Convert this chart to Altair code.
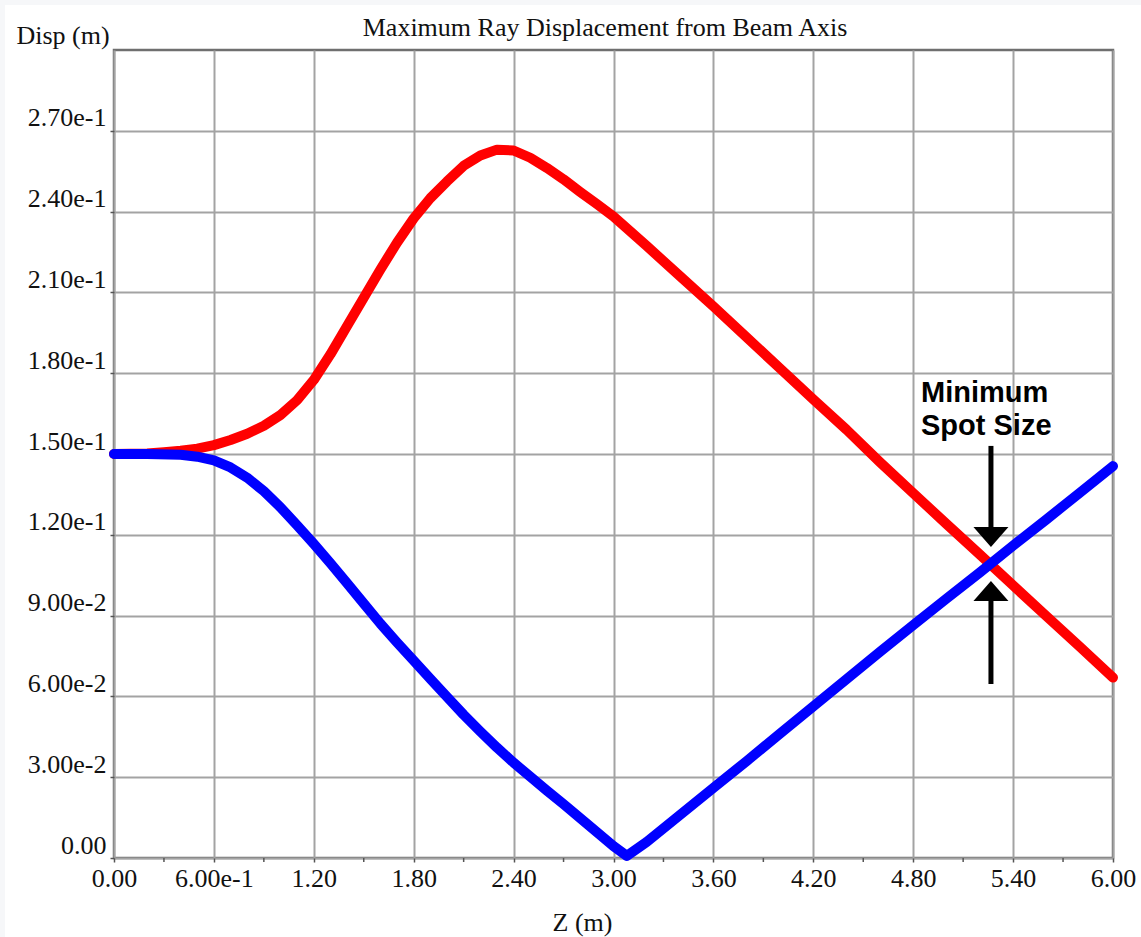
import altair as alt
import pandas as pd

# ---- data ----
z_red = [0.0, 0.2, 0.3, 0.4, 0.5, 0.6, 0.7, 0.8, 0.9, 1.0, 1.1, 1.2, 1.3, 1.4, 1.5,
         1.6, 1.7, 1.8, 1.9, 2.0, 2.1, 2.2, 2.3, 2.4, 2.5, 2.6, 2.7, 2.8, 2.9, 3.0,
         3.2, 3.4, 3.6, 3.8, 4.0, 4.2, 4.4, 4.6, 4.8, 5.0, 5.2, 5.4, 5.6, 5.8, 6.0]
d_red = [0.1500, 0.1502, 0.1507, 0.1512, 0.1520, 0.1533, 0.1552, 0.1575, 0.1605, 0.1645,
         0.1700, 0.1775, 0.1870, 0.1975, 0.2080, 0.2185, 0.2285, 0.2375, 0.2450, 0.2512,
         0.2570, 0.2608, 0.2630, 0.2627, 0.2600, 0.2562, 0.2520, 0.2473, 0.2428, 0.2382,
         0.2272, 0.2160, 0.2048, 0.1933, 0.1818, 0.1703, 0.1590, 0.1470, 0.1355, 0.1240,
         0.1127, 0.1012, 0.0898, 0.0785, 0.0670]

z_blue = [0.0, 0.2, 0.4, 0.5, 0.6, 0.7, 0.8, 0.9, 1.0, 1.1, 1.2, 1.3, 1.4, 1.5, 1.6,
          1.7, 1.8, 1.9, 2.0, 2.1, 2.2, 2.3, 2.4, 2.5, 2.6, 2.7, 2.8, 2.9, 3.0, 3.08,
          3.2, 3.4, 3.6, 3.8, 4.0, 4.2, 4.4, 4.6, 4.8, 5.0, 5.2, 5.4, 5.6, 5.8, 6.0]
d_blue = [0.1500, 0.1500, 0.1497, 0.1490, 0.1476, 0.1450, 0.1412, 0.1362, 0.1302, 0.1235,
          0.1166, 0.1094, 0.1020, 0.0945, 0.0870, 0.0800, 0.0733, 0.0665, 0.0598, 0.0532,
          0.0470, 0.0410, 0.0354, 0.0302, 0.0250, 0.0200, 0.0148, 0.0096, 0.0044, 0.0008,
          0.0060, 0.0160, 0.0260, 0.0360, 0.0462, 0.0563, 0.0664, 0.0765, 0.0865, 0.0963,
          0.1060, 0.1160, 0.1257, 0.1356, 0.1455]

x_ticks = [0.0, 0.6, 1.2, 1.8, 2.4, 3.0, 3.6, 4.2, 4.8, 5.4, 6.0]
x_minor = [0.3, 0.9, 1.5, 2.1, 2.7, 3.3, 3.9, 4.5, 5.1, 5.7]
y_ticks = [0.0, 0.03, 0.06, 0.09, 0.12, 0.15, 0.18, 0.21, 0.24, 0.27]

title_text = ["Maximum Ray Displacement from Beam Axis"]
x_title = "Z (m)"
y_title = "Disp (m)"

note_lines = ["Minimum", "Spot Size"]
note_z = [4.847, 4.847]
note_d = [0.1694, 0.1570]

arrow_z = [5.267, 5.267]
arrow_tail = [0.1530, 0.0646]
arrow_base = [0.1214, 0.0962]
head_base = [0.1229, 0.0954]
head_shape = ["M -1 0 L 1 0 L 0 1.14 Z", "M -1 0 L 1 0 L 0 -1.14 Z"]

SERIF = "Liberation Serif"
SANS = "Liberation Sans"
FS = 26

red_df = pd.DataFrame({"z": z_red, "d": d_red})
blue_df = pd.DataFrame({"z": z_blue, "d": d_blue})
minor_df = pd.DataFrame({"z": x_minor})
note_df = pd.DataFrame({"z": note_z, "d": note_d, "t": note_lines})
arrow_df = pd.DataFrame({"z": arrow_z, "d1": arrow_tail, "d2": arrow_base,
                         "hb": head_base, "shape": head_shape})
title_df = pd.DataFrame({"t": title_text})

xscale = alt.Scale(domain=[0, 6], nice=False, zero=False)
yscale = alt.Scale(domain=[0, 0.30], nice=False, zero=False)

x_axis = alt.Axis(
    values=x_ticks, title=x_title,
    labelExpr="datum.value > 0 && datum.value < 1 ? format(datum.value, '.2e') : format(datum.value, '.2f')",
    labelFont=SERIF, labelFontSize=FS, labelColor="#111", labelBaseline="alphabetic",
    labelPadding=24, tickSize=4, tickColor="#555", tickWidth=1.5,
    grid=True, gridColor="#a3a3a3", gridWidth=2,
    domain=False, labelFlush=False, labelOverlap=False,
    titleFont=SERIF, titleFontSize=FS, titleFontWeight="normal", titleColor="#111",
    titleBaseline="alphabetic", titleAlign="center", titleX=468, titleY=72,
)
y_axis = alt.Axis(
    values=y_ticks, title=y_title,
    labelExpr="datum.value == 0 ? '0.00' : format(datum.value, '.2e')",
    labelFont=SERIF, labelFontSize=FS, labelColor="#111", labelBaseline="alphabetic",
    labelOffset=-5, labelPadding=4, tickSize=4, tickColor="#555", tickWidth=1.5,
    grid=True, gridColor="#a3a3a3", gridWidth=2,
    domain=False, labelFlush=False, labelOverlap=False,
    titleFont=SERIF, titleFontSize=FS, titleFontWeight="normal", titleColor="#111",
    titleAngle=0, titleAlign="left", titleBaseline="alphabetic", titleX=-98, titleY=-7,
)

band = pd.DataFrame({"a": [0]})
band_top = alt.Chart(band).mark_rect(color="#f6f7f9", clip=False).encode(
    x=alt.value(-114), x2=alt.value(1027), y=alt.value(-50), y2=alt.value(-45)
)
band_left = alt.Chart(band).mark_rect(color="#f6f7f9", clip=False).encode(
    x=alt.value(-114), x2=alt.value(-109), y=alt.value(-50), y2=alt.value(887)
)

title = alt.Chart(title_df).mark_text(font=SERIF, fontSize=FS, color="#111", align="center",
                                      baseline="alphabetic", clip=False).encode(
    x=alt.value(491), y=alt.value(-14), text="t:N"
)

red = alt.Chart(red_df).mark_line(color="#ff0000", strokeWidth=10, strokeCap="round",
                                  strokeJoin="round").encode(
    x=alt.X("z:Q", scale=xscale, axis=x_axis),
    y=alt.Y("d:Q", scale=yscale, axis=y_axis),
)
blue = alt.Chart(blue_df).mark_line(color="#0000ff", strokeWidth=10, strokeCap="round",
                                    strokeJoin="round").encode(
    x=alt.X("z:Q", scale=xscale),
    y=alt.Y("d:Q", scale=yscale),
)

minor = alt.Chart(minor_df).mark_rule(color="#555", strokeWidth=1.5, clip=False).encode(
    x=alt.X("z:Q", scale=xscale), y=alt.value(808), y2=alt.value(812)
)

shafts = alt.Chart(arrow_df).mark_rule(color="black", strokeWidth=5).encode(
    x=alt.X("z:Q", scale=xscale), y=alt.Y("d1:Q", scale=yscale), y2="d2:Q"
)
heads = alt.Chart(arrow_df).mark_point(filled=True, color="black", opacity=1, size=1225,
                                       strokeWidth=0).encode(
    x=alt.X("z:Q", scale=xscale), y=alt.Y("hb:Q", scale=yscale),
    shape=alt.Shape("shape:N", scale=None),
)

note = alt.Chart(note_df).mark_text(font=SANS, fontSize=29, fontWeight="bold", color="black",
                                    align="left", baseline="alphabetic").encode(
    x=alt.X("z:Q", scale=xscale), y=alt.Y("d:Q", scale=yscale), text="t:N"
)

chart = alt.layer(band_top, band_left, title, red, blue, minor, shafts, heads, note).properties(
    width=999, height=808,
    autosize=alt.AutoSizeParams(type="none"),
    padding={"left": 114, "top": 50, "right": 28, "bottom": 79},
    background="white",
).configure_view(stroke="#6f6f6f", strokeWidth=2.5)

chart.save("out.html", embed_options={"renderer": "svg", "actions": False})
